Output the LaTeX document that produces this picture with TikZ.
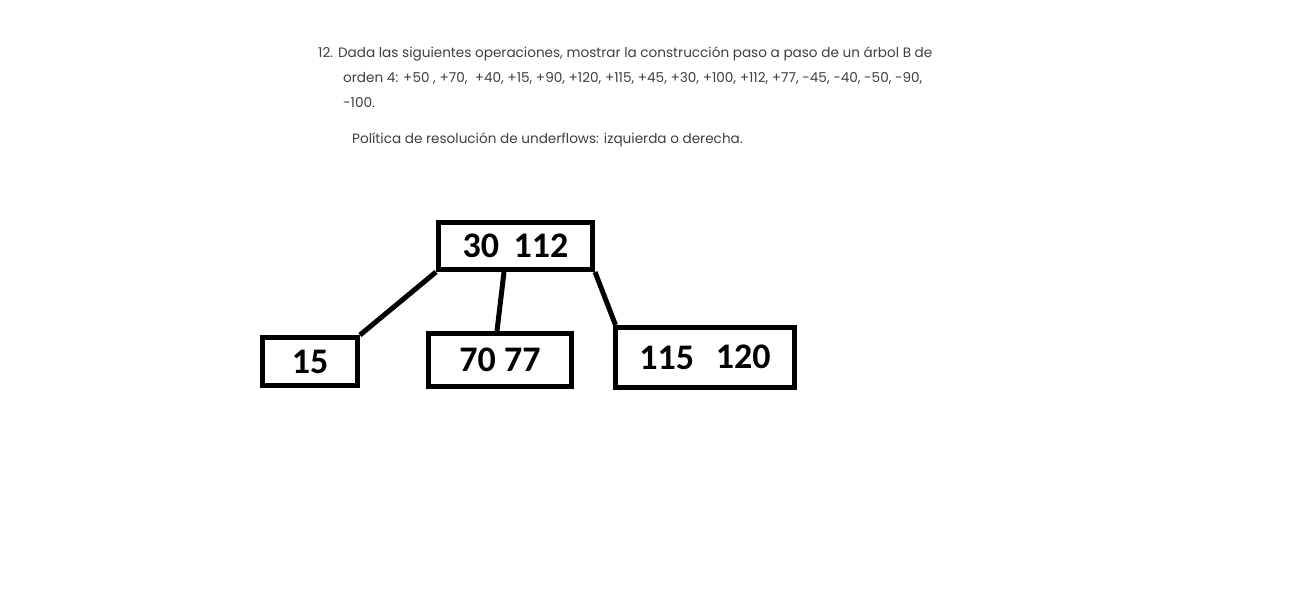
\documentclass[tikz,border=0pt]{standalone}
\usepackage{fontspec}
\usetikzlibrary{calc}
\newfontfamily\hdrfont{Poppins}
\newfontfamily\numfont{Carlito}
\definecolor{hdrgray}{HTML}{404040}
\begin{document}
\begin{tikzpicture}[x=1pt,y=-1pt,
  hdr/.style={anchor=base west,inner sep=0pt,text=hdrgray,font=\hdrfont\fontsize{13.6}{16}\selectfont},
  keybox/.style={draw=black,line width=5pt,rectangle,inner sep=0pt,font=\numfont\bfseries\fontsize{36}{38}\selectfont},
  edge/.style={draw=black,line width=5pt}]
\useasboundingbox[fill=white] (0,0) rectangle (1297,596);
\node[hdr] (l1) at (318,58) {12. Dada las siguientes operaciones, mostrar la construcción paso a paso de un árbol B de};
\node[hdr] (l2) at (343,83) {orden 4: +50 , +70,\ \ +40, +15, +90, +120, +115, +45, +30, +100, +112, +77, -45, -40, -50, -90,};
\node[hdr] (l3) at (343,108) {-100.};
\node[hdr] (l4) at (352,144) {Política de resolución de underflows: izquierda o derecha.};
\node[keybox,minimum width=154pt,minimum height=47pt] (root) at (515.5,246) {30\hspace{0.4em}112};
\node[keybox,minimum width=95pt,minimum height=48pt] (left) at (310,361.5) {15};
\node[keybox,minimum width=143pt,minimum height=53pt] (mid) at (500,360) {70 77};
\node[keybox,minimum width=179pt,minimum height=60pt] (right) at (705,357.5) {\raisebox{-1.5pt}{115}\hspace{0.6em}120};
\draw[edge] (root.south west) -- (left.north east);
\draw[edge] ($(root.south)+(-11.5,0)$) -- ($(mid.north)+(-3,0)$);
\draw[edge] (root.south east) -- ($(right.north west)+(2.5,0)$);
\end{tikzpicture}
\end{document}
